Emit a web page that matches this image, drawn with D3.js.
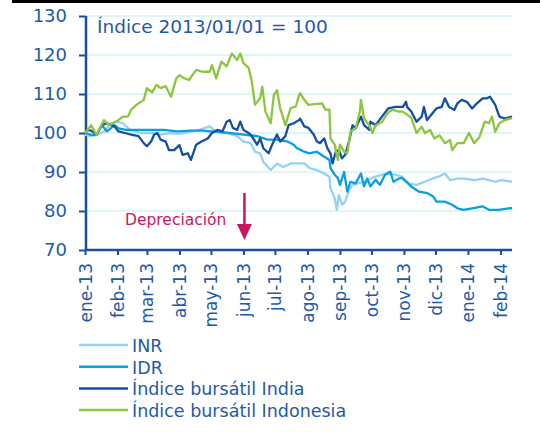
<!DOCTYPE html>
<html>
<head>
<meta charset="utf-8">
<script src="https://cdn.jsdelivr.net/npm/d3@7"></script>
<style>
    body { margin: 0; background: #fff; }
    svg text { font-family: "DejaVu Sans", sans-serif; }
</style>
</head>
<body>
<div id="chart"></div>
<script>
;(function () {

    // INR vs USD, indexed
    var inrData = [
        ["2013-01-01", 99.5], ["2013-01-07", 99.2], ["2013-01-12", 99.5], ["2013-01-19", 100.4],
        ["2013-01-26", 102.5], ["2013-01-31", 102.9], ["2013-02-06", 102.5], ["2013-02-13", 100.8],
        ["2013-02-23", 100], ["2013-03-05", 100], ["2013-03-14", 99.6], ["2013-03-24", 100],
        ["2013-04-01", 99.8], ["2013-04-10", 100.3], ["2013-04-20", 100.8], ["2013-04-30", 101.7],
        ["2013-05-06", 100.4], ["2013-05-16", 100], ["2013-05-26", 99.2], ["2013-06-01", 97.8],
        ["2013-06-08", 97.4], ["2013-06-12", 95.2], ["2013-06-17", 94.8], ["2013-06-20", 92.6],
        ["2013-06-27", 90.5], ["2013-07-03", 92.2], ["2013-07-09", 91.3], ["2013-07-16", 92.2],
        ["2013-07-26", 92.2], ["2013-07-29", 92.2], ["2013-08-03", 91], ["2013-08-10", 90.5],
        ["2013-08-17", 89.6], ["2013-08-22", 88.8], ["2013-08-23", 85.8], ["2013-08-27", 83.3],
        ["2013-08-29", 80.3], ["2013-08-31", 84.1], ["2013-09-03", 81.6], ["2013-09-06", 82.4],
        ["2013-09-10", 85.5], ["2013-09-13", 86.7], ["2013-09-18", 87.1], ["2013-09-24", 87.5],
        ["2013-09-30", 88.3], ["2013-10-05", 88.8], ["2013-10-11", 89.3], ["2013-10-17", 89.6],
        ["2013-10-24", 89.3], ["2013-10-30", 88.8], ["2013-11-06", 87], ["2013-11-13", 86.7],
        ["2013-11-21", 87.5], ["2013-11-28", 88.3], ["2013-12-04", 88.8], ["2013-12-10", 89.6],
        ["2013-12-15", 87.9], ["2013-12-22", 88.3], ["2013-12-29", 88.3], ["2014-01-07", 87.9],
        ["2014-01-15", 88.3], ["2014-01-21", 87.9], ["2014-01-27", 87.5], ["2014-02-02", 87.9],
        ["2014-02-12", 87.5]
    ];

    // IDR vs USD, indexed
    var idrData = [
        ["2013-01-01", 100], ["2013-01-07", 99.5], ["2013-01-12", 99.5], ["2013-01-17", 102],
        ["2013-01-22", 100.4], ["2013-01-29", 102], ["2013-02-02", 101.2], ["2013-02-09", 100.8],
        ["2013-02-19", 100.8], ["2013-03-05", 100.8], ["2013-03-17", 100.8], ["2013-03-30", 100.4],
        ["2013-04-11", 100.6], ["2013-04-23", 100.6], ["2013-05-06", 100.3], ["2013-05-19", 100],
        ["2013-06-01", 99.6], ["2013-06-14", 99.2], ["2013-06-24", 98.3], ["2013-07-03", 98.3],
        ["2013-07-13", 97.8], ["2013-07-19", 97], ["2013-07-22", 96.1], ["2013-07-26", 95.6],
        ["2013-07-29", 95.2], ["2013-08-03", 94.8], ["2013-08-10", 95.2], ["2013-08-17", 93.9],
        ["2013-08-22", 93.1], ["2013-08-23", 91], ["2013-08-27", 89.3], ["2013-08-30", 88.5],
        ["2013-09-01", 86.7], ["2013-09-05", 90], ["2013-09-08", 85], ["2013-09-11", 87.5],
        ["2013-09-16", 87.1], ["2013-09-21", 89.6], ["2013-09-24", 86.3], ["2013-09-27", 88.3],
        ["2013-09-30", 86.3], ["2013-10-05", 88], ["2013-10-09", 86.7], ["2013-10-14", 89.3],
        ["2013-10-19", 90.1], ["2013-10-22", 87.5], ["2013-10-27", 88.3], ["2013-10-30", 88.5],
        ["2013-11-08", 86.3], ["2013-11-15", 85], ["2013-11-23", 84.6], ["2013-11-29", 83.7],
        ["2013-12-02", 82.4], ["2013-12-10", 82.4], ["2013-12-17", 81.6], ["2013-12-22", 80.7],
        ["2013-12-28", 80.3], ["2014-01-05", 80.7], ["2014-01-15", 81.2], ["2014-01-21", 80.3],
        ["2014-01-30", 80.3], ["2014-02-09", 80.7], ["2014-02-12", 80.7]
    ];

    // Sensex
    var indiaData = [
        ["2013-01-02", 100.8], ["2013-01-07", 100.6], ["2013-01-12", 99.6], ["2013-01-17", 102],
        ["2013-01-22", 102.5], ["2013-01-29", 101.7], ["2013-02-02", 100.4], ["2013-02-08", 100],
        ["2013-02-14", 99.6], ["2013-02-21", 99.2], ["2013-02-26", 97.4], ["2013-03-01", 96.6],
        ["2013-03-05", 97.8], ["2013-03-08", 99.6], ["2013-03-11", 100], ["2013-03-14", 98.3],
        ["2013-03-19", 97.8], ["2013-03-22", 95.6], ["2013-03-27", 95.6], ["2013-04-01", 96.9],
        ["2013-04-04", 94.4], ["2013-04-09", 94.8], ["2013-04-12", 93.1], ["2013-04-17", 97],
        ["2013-04-22", 97.8], ["2013-04-28", 98.6], ["2013-05-02", 100], ["2013-05-07", 100.8],
        ["2013-05-12", 100.4], ["2013-05-16", 102.9], ["2013-05-19", 103.3], ["2013-05-22", 101.3],
        ["2013-05-26", 100.8], ["2013-05-29", 102.9], ["2013-06-01", 100.8], ["2013-06-06", 100],
        ["2013-06-09", 99.2], ["2013-06-14", 97], ["2013-06-17", 98.6], ["2013-06-20", 96.1],
        ["2013-06-25", 94.8], ["2013-06-29", 97.4], ["2013-07-03", 99.6], ["2013-07-06", 97.8],
        ["2013-07-11", 99.2], ["2013-07-14", 102], ["2013-07-19", 102.5], ["2013-07-24", 103.3],
        ["2013-07-25", 103.7], ["2013-07-29", 101.7], ["2013-08-02", 101.3], ["2013-08-07", 99.6],
        ["2013-08-10", 97.8], ["2013-08-13", 97.4], ["2013-08-17", 98.6], ["2013-08-20", 96.1],
        ["2013-08-23", 94.8], ["2013-08-25", 92.2], ["2013-08-28", 95.2], ["2013-08-31", 95.6],
        ["2013-09-03", 93.5], ["2013-09-06", 94.4], ["2013-09-10", 98.2], ["2013-09-13", 102],
        ["2013-09-16", 101.2], ["2013-09-21", 104.2], ["2013-09-24", 102], ["2013-09-29", 100.8],
        ["2013-09-30", 102.9], ["2013-10-05", 102], ["2013-10-11", 104.2], ["2013-10-17", 106.3],
        ["2013-10-24", 106.7], ["2013-10-31", 106.7], ["2013-11-03", 108], ["2013-11-04", 106.7],
        ["2013-11-08", 105.5], ["2013-11-13", 102.9], ["2013-11-18", 104.2], ["2013-11-20", 106.7],
        ["2013-11-23", 103.3], ["2013-11-28", 105], ["2013-12-02", 106.3], ["2013-12-07", 106.7],
        ["2013-12-10", 108.9], ["2013-12-14", 106.7], ["2013-12-19", 105.9], ["2013-12-22", 107.6],
        ["2013-12-26", 108.5], ["2013-12-31", 108], ["2014-01-05", 106.3], ["2014-01-08", 107.2],
        ["2014-01-15", 108.9], ["2014-01-19", 108.9], ["2014-01-22", 109.3], ["2014-01-27", 107.2],
        ["2014-01-31", 104.2], ["2014-02-05", 103.7], ["2014-02-12", 104.2]
    ];

    // Jakarta composite
    var indonesiaData = [
        ["2013-01-01", 100], ["2013-01-07", 102], ["2013-01-12", 99.5], ["2013-01-19", 103.3],
        ["2013-01-24", 102], ["2013-01-31", 103], ["2013-02-06", 104.2], ["2013-02-11", 104.2],
        ["2013-02-14", 106], ["2013-02-19", 107.2], ["2013-02-26", 108.5], ["2013-03-01", 111.5],
        ["2013-03-06", 110.4], ["2013-03-10", 112.3], ["2013-03-14", 111.5], ["2013-03-19", 112],
        ["2013-03-24", 109.3], ["2013-03-29", 114], ["2013-04-01", 114.8], ["2013-04-06", 114],
        ["2013-04-10", 113.6], ["2013-04-17", 116.2], ["2013-04-23", 115.7], ["2013-04-30", 115.7],
        ["2013-05-02", 117.4], ["2013-05-06", 114], ["2013-05-11", 118.3], ["2013-05-16", 117.1],
        ["2013-05-21", 120.4], ["2013-05-26", 118.7], ["2013-05-29", 120.4], ["2013-06-01", 117.9],
        ["2013-06-06", 116.7], ["2013-06-09", 113.2], ["2013-06-12", 107.2], ["2013-06-17", 109],
        ["2013-06-19", 111.9], ["2013-06-22", 105.5], ["2013-06-27", 102.5], ["2013-06-30", 109.7],
        ["2013-07-03", 111], ["2013-07-06", 106.4], ["2013-07-11", 102], ["2013-07-16", 106.4],
        ["2013-07-21", 106.8], ["2013-07-24", 109.7], ["2013-07-25", 110.2], ["2013-07-29", 108.5],
        ["2013-08-02", 107.2], ["2013-08-08", 107.4], ["2013-08-15", 107.6], ["2013-08-18", 106],
        ["2013-08-22", 106], ["2013-08-23", 98.6], ["2013-08-27", 97], ["2013-08-30", 93.1],
        ["2013-09-01", 97], ["2013-09-05", 95.2], ["2013-09-08", 94.8], ["2013-09-11", 100.3],
        ["2013-09-16", 101.2], ["2013-09-20", 105.5], ["2013-09-21", 108.5], ["2013-09-24", 103.7],
        ["2013-09-29", 102], ["2013-10-02", 100], ["2013-10-05", 102], ["2013-10-11", 102.8],
        ["2013-10-16", 105], ["2013-10-21", 106], ["2013-10-27", 105.5], ["2013-10-31", 105.5],
        ["2013-11-04", 104.7], ["2013-11-08", 103.9], ["2013-11-13", 100], ["2013-11-18", 101.6],
        ["2013-11-21", 100], ["2013-11-26", 100.8], ["2013-11-30", 98.6], ["2013-12-05", 99.4],
        ["2013-12-10", 97.4], ["2013-12-15", 98.2], ["2013-12-17", 95.6], ["2013-12-22", 97.4],
        ["2013-12-28", 97.4], ["2014-01-02", 100], ["2014-01-07", 97.4], ["2014-01-12", 99],
        ["2014-01-17", 102.9], ["2014-01-21", 102.5], ["2014-01-24", 104.2], ["2014-01-27", 100.3],
        ["2014-01-31", 102.5], ["2014-02-05", 103.3], ["2014-02-12", 103.8]
    ];

    var monthTicks = ["2013-01-01", "2013-02-01", "2013-03-01", "2013-04-01", "2013-05-01",
        "2013-06-01", "2013-07-01", "2013-08-01", "2013-09-01", "2013-10-01", "2013-11-01",
        "2013-12-01", "2014-01-01", "2014-02-01"];
    var monthLabels = ["ene-13", "feb-13", "mar-13", "abr-13", "may-13", "jun-13", "jul-13",
        "ago-13", "sep-13", "oct-13", "nov-13", "dic-13", "ene-14", "feb-14"];
    var yTicks = [70, 80, 90, 100, 110, 120, 130];

    var seriesNames = ["INR", "IDR", "Índice bursátil India", "Índice bursátil Indonesia"];
    var seriesColors = ["#93d2f2", "#0a9fe0", "#1550a0", "#8cc63f"];

    var width = 540
        , height = 441
        , axisColor = "#1a4f9f"
        , textColor = "#1f5aa6"
        , svg
        , x
        , y;

    var parse = d3.timeParse("%Y-%m-%d");

    function drawFrame() {
        svg = d3.select("#chart").append("svg")
            .attr("width", width)
            .attr("height", height);

        svg.append("rect")
            .attr("x", 12).attr("y", 0)
            .attr("width", width - 12).attr("height", 3)
            .attr("fill", "#000");

        x = d3.scaleTime()
            .domain([parse("2013-01-01"), parse("2014-02-12")])
            .range([85, 512]);

        y = d3.scaleLinear()
            .domain([70, 130])
            .range([250, 16]);

        // grid
        svg.append("g")
            .selectAll("line")
            .data(yTicks.filter(function(d) { return d > 70; }))
            .enter().append("line")
            .attr("x1", 86).attr("x2", 512)
            .attr("y1", function(d) { return y(d); })
            .attr("y2", function(d) { return y(d); })
            .attr("stroke", "#c3e7f7")
            .attr("stroke-width", 1.2);
    }

    function drawAxes() {
        var yAxis = d3.axisLeft(y)
            .tickValues(yTicks)
            .tickSize(7)
            .tickPadding(12);

        var gy = svg.append("g")
            .attr("transform", "translate(86,0)")
            .call(yAxis);
        gy.select(".domain").remove();
        gy.append("line")
            .attr("x1", 0).attr("x2", 0)
            .attr("y1", y(130)).attr("y2", y(70) + 1)
            .attr("stroke", axisColor).attr("stroke-width", 2.5);
        gy.selectAll(".tick line").attr("stroke", axisColor).attr("stroke-width", 2);
        gy.selectAll(".tick text")
            .attr("fill", textColor)
            .style("font-size", "18px");

        var ticks = monthTicks.map(parse);
        var xAxis = d3.axisBottom(x)
            .tickValues(ticks)
            .tickFormat("")
            .tickSize(5)
            .tickSizeOuter(0);

        var gx = svg.append("g")
            .attr("class", "x-axis")
            .attr("transform", "translate(0,250)")
            .call(xAxis);
        gx.select(".domain").remove();
        gx.selectAll(".tick text").remove();
        gx.append("line")
            .attr("x1", 85).attr("x2", 512)
            .attr("y1", 0).attr("y2", 0)
            .attr("stroke", axisColor).attr("stroke-width", 2.5);
        gx.selectAll(".tick line").attr("stroke", axisColor).attr("stroke-width", 2);

        // vertical month labels, each in its own rotated group
        var labels = svg.append("g")
            .attr("class", "month-labels")
            .selectAll("g")
            .data(ticks)
            .enter().append("g")
            .attr("transform", function(d) {
                return "translate(" + (x(d) + 6.5) + ",263) rotate(-90)";
            });

        labels.append("text")
            .attr("x", 0).attr("y", 0)
            .style("text-anchor", "end")
            .attr("fill", textColor)
            .style("font-size", "17px")
            .text(function(d, i) { return monthLabels[i]; });
    }

    function drawLines() {
        var line = d3.line()
            .x(function(d) { return x(parse(d[0])); })
            .y(function(d) { return y(d[1]); });

        var all = [inrData, idrData, indiaData, indonesiaData];
        svg.append("g")
            .selectAll("path")
            .data(all)
            .enter().append("path")
            .attr("d", line)
            .attr("fill", "none")
            .attr("stroke", function(d, i) { return seriesColors[i]; })
            .attr("stroke-width", 2.3)
            .attr("stroke-linejoin", "round");
    }

    function drawNotes() {
        svg.append("text")
            .attr("x", 97).attr("y", 33)
            .attr("fill", textColor)
            .style("font-size", "18.5px")
            .text("Índice 2013/01/01 = 100");

        var red = "#c8175d";
        svg.append("text")
            .attr("x", 125).attr("y", 225)
            .attr("fill", red)
            .style("font-size", "15.5px")
            .text("Depreciación");

        var ax = x(parse("2013-06-01")) + 1;
        svg.append("line")
            .attr("x1", ax).attr("x2", ax)
            .attr("y1", 193).attr("y2", 227)
            .attr("stroke", red).attr("stroke-width", 2.5);
        svg.append("path")
            .attr("d", "M" + (ax - 7.5) + ",224L" + (ax + 7.5) + ",224L" + ax + ",240Z")
            .attr("fill", red);
    }

    function drawLegend() {
        var rows = svg.append("g")
            .selectAll("g")
            .data(seriesNames)
            .enter().append("g")
            .attr("transform", function(d, i) { return "translate(0," + (345 + i * 21.7) + ")"; });

        rows.append("line")
            .attr("x1", 79).attr("x2", 128)
            .attr("stroke", function(d, i) { return seriesColors[i]; })
            .attr("stroke-width", 2.5);

        rows.append("text")
            .attr("x", 132).attr("y", 7)
            .attr("fill", textColor)
            .style("font-size", "17.5px")
            .text(function(d) { return d; });
    }

    function initialize() {
        drawFrame();
        drawAxes();
        drawLines();
        drawNotes();
        drawLegend();
    }

    initialize();

}());
</script>
</body>
</html>
